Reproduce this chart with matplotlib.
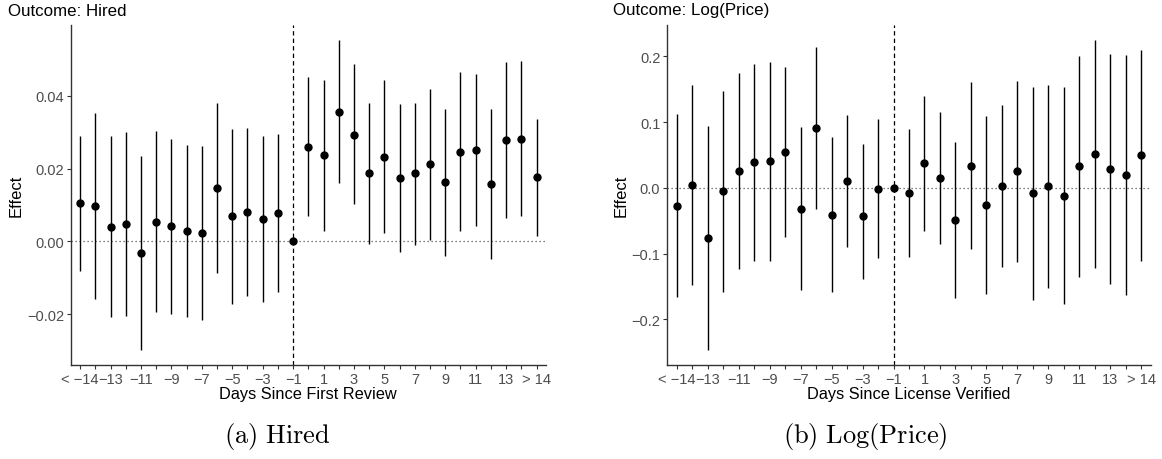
import matplotlib
matplotlib.use("Agg")
import matplotlib.pyplot as plt
import numpy as np

plt.rcParams['font.family'] = ['Liberation Sans', 'DejaVu Sans']
plt.rcParams['mathtext.fontset'] = 'cm'

# Categories (days relative to event)
categories = ["< \u221214"] + [str(d).replace("-", "\u2212") for d in range(-14, 15)] + ["> 14"]
tick_labels = [c if i % 2 == 0 else "" for i, c in enumerate(categories)]
ref_category = "\u22121"

# Panel (a): Hired
hired_est = [0.0105, 0.0098, 0.0040, 0.0047, -0.0032, 0.0054, 0.0042, 0.0028, 0.0022, 0.0146,
             0.0070, 0.0081, 0.0061, 0.0078, 0.0000,
             0.0260, 0.0237, 0.0357, 0.0294, 0.0188, 0.0233, 0.0174, 0.0187, 0.0213, 0.0163,
             0.0247, 0.0252, 0.0158, 0.0280, 0.0281, 0.0176]
hired_hi = [0.0290, 0.0353, 0.0290, 0.0301, 0.0234, 0.0303, 0.0283, 0.0265, 0.0262, 0.0380,
            0.0310, 0.0312, 0.0290, 0.0295, 0.0000,
            0.0452, 0.0444, 0.0554, 0.0487, 0.0381, 0.0444, 0.0377, 0.0382, 0.0420, 0.0364,
            0.0466, 0.0460, 0.0363, 0.0494, 0.0495, 0.0336]
hired_lo = [-0.0081, -0.0157, -0.0209, -0.0206, -0.0298, -0.0195, -0.0199, -0.0207, -0.0216, -0.0086,
            -0.0171, -0.0150, -0.0166, -0.0140, 0.0000,
            0.0069, 0.0028, 0.0160, 0.0102, -0.0006, 0.0022, -0.0030, -0.0010, 0.0005, -0.0040,
            0.0028, 0.0043, -0.0048, 0.0065, 0.0070, 0.0015]

# Panel (b): Log(Price)
price_est = [-0.0274, 0.0046, -0.0760, -0.0055, 0.0254, 0.0386, 0.0406, 0.0543, -0.0320, 0.0909,
             -0.0410, 0.0102, -0.0436, -0.0015, 0.0000,
             -0.0076, 0.0371, 0.0148, -0.0487, 0.0335, -0.0263, 0.0021, 0.0250, -0.0085, 0.0030,
             -0.0122, 0.0325, 0.0513, 0.0285, 0.0193, 0.0493]
price_hi = [0.112, 0.157, 0.094, 0.147, 0.175, 0.188, 0.192, 0.184, 0.0924, 0.2146,
            0.077, 0.1107, 0.066, 0.1046, 0.0,
            0.0893, 0.1396, 0.1157, 0.069, 0.161, 0.109, 0.126, 0.163, 0.153, 0.157,
            0.1528, 0.2005, 0.2248, 0.2035, 0.2015, 0.2091]
price_lo = [-0.166, -0.148, -0.247, -0.158, -0.124, -0.111, -0.111, -0.0755, -0.156, -0.033,
            -0.158, -0.0907, -0.139, -0.1075, 0.0,
            -0.105, -0.066, -0.0857, -0.167, -0.0938, -0.161, -0.121, -0.113, -0.171, -0.152,
            -0.1766, -0.135, -0.1227, -0.146, -0.163, -0.111]

W, H = 1162, 460
fig = plt.figure(figsize=(W / 100, H / 100), dpi=100)

def px_axes(x0, x1, ytop, ybot):
    return fig.add_axes([x0 / W, 1 - ybot / H, (x1 - x0) / W, (ybot - ytop) / H])

panels = [
    dict(rect=(71, 545.7, 25.7, 365.7), est=hired_est, lo=hired_lo, hi=hired_hi,
         ylim=(-0.0339, 0.0596), yticks=[-0.02, 0.0, 0.02, 0.04], yfmt="{:.2f}",
         title="Outcome: Hired", title_x=8, ylab_x=16, xlabel="Days Since First Review",
         caption=r"$\mathrm{(a)\ Hired}$", cap_x=277),
    dict(rect=(667.3, 1150.7, 25.7, 365.7), est=price_est, lo=price_lo, hi=price_hi,
         ylim=(-0.269, 0.248), yticks=[-0.2, -0.1, 0.0, 0.1, 0.2], yfmt="{:.1f}",
         title="Outcome: Log(Price)", title_x=613, ylab_x=621, xlabel="Days Since License Verified",
         caption=r"$\mathrm{(b)\ Log(Price)}$", cap_x=865),
]

xpos = np.arange(len(categories))
ref_idx = categories.index(ref_category)

for p in panels:
    ax = px_axes(*p["rect"])
    est = np.array(p["est"]); lo = np.array(p["lo"]); hi = np.array(p["hi"])
    ax.axhline(0, color="#555555", lw=0.9, ls=(0, (1, 2.2)), zorder=1)
    ax.axvline(ref_idx, color="black", lw=0.9, ls=(0, (3.5, 2.5)), zorder=1)
    ax.vlines(xpos, lo, hi, color="black", lw=1.0, zorder=2)
    ax.plot(xpos, est, "o", color="black", ms=5, zorder=3)
    ax.set_xlim(-0.6, len(categories) - 1 + 0.6)
    ax.set_ylim(*p["ylim"])
    ax.set_xticks(xpos)
    ax.set_xticklabels(tick_labels)
    ax.set_yticks(p["yticks"])
    ax.set_yticklabels([p["yfmt"].format(v).replace("-", "\u2212") for v in p["yticks"]])
    for s in ["top", "right"]:
        ax.spines[s].set_visible(False)
    for s in ["left", "bottom"]:
        ax.spines[s].set_color("#333333")
        ax.spines[s].set_linewidth(1.0)
    ax.tick_params(axis="both", length=3, width=0.8, color="#333333",
                   labelcolor="#4D4D4D", labelsize=10.5, pad=2)
    ax.set_xlabel(p["xlabel"], fontsize=11.8, color="black", labelpad=0)
    fig.text(p["ylab_x"] / W, 1 - 195.7 / H, "Effect", rotation=90, fontsize=12,
             ha="center", va="center")
    fig.text(p["title_x"] / W, 1 - 11 / H, p["title"], fontsize=12.2, ha="left", va="center")
    fig.text(p["cap_x"] / W, 1 - 437 / H, p["caption"], fontsize=19, ha="center", va="center")

fig.savefig("out.png", dpi=100)
